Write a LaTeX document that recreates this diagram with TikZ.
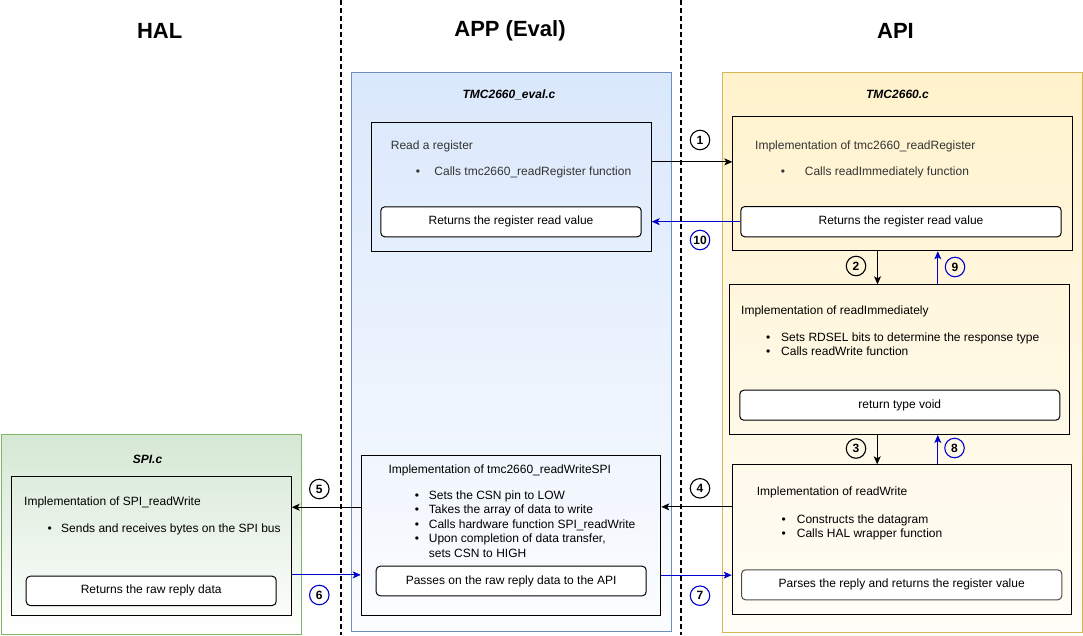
\documentclass[tikz,border=0pt]{standalone}
\usepackage{fontspec}
\setmainfont{Liberation Sans}
\usetikzlibrary{arrows.meta}
\definecolor{halline}{HTML}{82B366}
\definecolor{halfill}{HTML}{D5E8D4}
\definecolor{appline}{HTML}{6C8EBF}
\definecolor{appfill}{HTML}{DAE8FC}
\definecolor{apiline}{HTML}{D6B656}
\definecolor{apifill}{HTML}{FFF2CC}
\definecolor{retblue}{HTML}{0000CC}
\newcommand{\bul}[1][15pt]{\makebox[#1][l]{\textbullet}}
\tikzset{
every node/.style={inner sep=0pt, font=\fontsize{12}{14.5}\selectfont},
head/.style={font=\bfseries\fontsize{22}{22}\selectfont},
fname/.style={font=\bfseries\itshape\fontsize{12}{12}\selectfont},
layer/.style={rectangle, anchor=north west, line width=0.8pt},
block/.style={rectangle, anchor=north west, draw, line width=1pt},
result/.style={rectangle, anchor=north west, draw, rounded corners=4pt, fill=white, line width=1pt},
txt/.style={anchor=west, align=left},
num/.style={circle, draw, line width=1.1pt, minimum size=19.5pt, font=\bfseries\fontsize{12}{12}\selectfont},
bnum/.style={num, draw=retblue},
call/.style={draw, line width=0.9pt, -{Stealth[length=8pt,width=7pt,inset=2pt]}},
ret/.style={call, draw=retblue}
}

\begin{document}
\begin{tikzpicture}[x=1pt, y=-1pt]
\useasboundingbox (0,0) rectangle (1083,635);

% the three layers
\node[layer, draw=halline, top color=halfill, bottom color=white, minimum width=300pt, minimum height=200pt] (hall) at (0.5,434.3) {};
\node[layer, draw=appline, top color=appfill, bottom color=appfill!10!white, minimum width=320pt, minimum height=559.6pt] (appl) at (350.7,71.7) {};
\node[layer, draw=apiline, top color=apifill, bottom color=apifill!15!white, minimum width=360.3pt, minimum height=560pt] (apil) at (721.7,71.7) {};

\draw[line width=2pt, dash pattern=on 5pt off 3pt] (340.5,0) -- (340.5,635);
\draw[line width=2pt, dash pattern=on 5pt off 3pt] (680.5,0) -- (680.5,635);

\node[head] (halh) at (159.7,31.3) {HAL};
\node[head] (apph) at (510,31.3) {APP (Eval)};
\node[head] (apih) at (895.5,31.3) {API};

\node[fname] (evalc) at (509,94.7) {TMC2660\_eval.c};
\node[fname] (apic) at (897.5,94) {TMC2660.c};
\node[fname] (spic) at (147.5,459) {SPI.c};

% blocks
\node[block, minimum width=280pt, minimum height=129.3pt] (rd) at (370.7,121.7) {};
\node[result, minimum width=260.4pt, minimum height=30pt] (rdret) at (380.3,206.3) {Returns the register read value};
\node[block, minimum width=339.4pt, minimum height=134.6pt] (impl) at (732.3,115.7) {};
\node[result, minimum width=320.4pt, minimum height=30.3pt] (implret) at (740.3,206) {Returns the register read value};
\node[block, minimum width=340pt, minimum height=149.7pt] (rimm) at (729.3,284.3) {};
\node[result, minimum width=320pt, minimum height=30pt] (void) at (739.3,389.7) {return type void};
\node[block, minimum width=339pt, minimum height=149.7pt] (rw) at (731.7,464.3) {};
\node[result, draw=black!70, minimum width=320.3pt, minimum height=30pt] (parse) at (741,569.3) {Parses the reply and returns the register value};
\node[block, minimum width=299.6pt, minimum height=159.7pt] (spi) at (360.7,455.3) {};
\node[result, minimum width=270pt, minimum height=29.6pt] (pass) at (375.7,565.7) {Passes on the raw reply data to the API};
\node[block, minimum width=280pt, minimum height=139.3pt] (hal) at (10.7,475.7) {};
\node[result, minimum width=250pt, minimum height=29.3pt] (raw) at (25.7,575.7) {Returns the raw reply data};

% texts
\node[txt, text=black!80] (rdt) at (390.7,146) {Read a register};
\node[txt, text=black!80] (rdl) at (415.7,172) {\bul[18.6pt]Calls tmc2660\_readRegister function};
\node[txt, text=black!80] (implt) at (755,146) {Implementation of tmc2660\_readRegister};
\node[txt, text=black!80] (impll) at (780.7,172) {\bul[24pt]Calls readImmediately function};
\node[txt] (rimmt) at (741,311.7) {Implementation of readImmediately};
\node[txt, anchor=north west] (rimml) at (766,332.5) {\bul Sets RDSEL bits to determine the response type\\\bul Calls readWrite function};
\node[txt] (rwt) at (756.7,492.3) {Implementation of readWrite};
\node[txt, anchor=north west] (rwl) at (781.3,514.5) {\bul[15.4pt]Constructs the datagram\\\bul[15.4pt]Calls HAL wrapper function};
\node[txt] (spit) at (388.3,470) {Implementation of tmc2660\_readWriteSPI};
\node[txt, anchor=north west] (spil) at (414.7,490.5) {\bul[14pt]Sets the CSN pin to LOW\\\bul[14pt]Takes the array of data to write\\\bul[14pt]Calls hardware function SPI\_readWrite\\\bul[14pt]Upon completion of data transfer,\\\hspace*{14pt}sets CSN to HIGH};
\node[txt] (halt) at (24,502.7) {Implementation of SPI\_readWrite};
\node[txt] (halls) at (47.3,529.3) {\bul[13.7pt]Sends and receives bytes on the SPI bus};

% calls and returns
\coordinate (c1) at ([yshift=25pt]rd.east);
\draw[call] (c1) -- (c1 -| impl.west);
\draw[ret] (implret.west) -- (implret.west -| rd.east);
\coordinate (c2) at ([xshift=-25pt]impl.south);
\draw[call] (c2) -- (c2 |- rimm.north);
\coordinate (c9) at ([xshift=35.3pt]impl.south);
\draw[ret] (c9 |- rimm.north) -- (c9);
\coordinate (c3) at ([xshift=-22.6pt]rimm.south);
\draw[call] (c3) -- (c3 |- rw.north);
\coordinate (c8) at ([xshift=38pt]rimm.south);
\draw[ret] (c8 |- rw.north) -- (c8);
\coordinate (c4) at ([yshift=32.8pt]rw.west);
\draw[call] (c4) -- (c4 -| spi.east);
\coordinate (c5) at ([yshift=28.4pt]spi.west);
\draw[call] (c5) -- (c5 -| hal.east);
\coordinate (c6) at ([yshift=-29pt]hal.east);
\draw[ret] (c6) -- (c6 -| spi.west);
\coordinate (c7) at ([yshift=-39.5pt]spi.east);
\draw[ret] (c7) -- (c7 -| rw.west);

% step numbers
\node[num] (n1) at (700,140) {1};
\node[bnum] (n10) at (700,240) {10};
\node[num] (n2) at (856,266) {2};
\node[bnum] (n9) at (955,267) {9};
\node[num] (n3) at (856,448.5) {3};
\node[bnum] (n8) at (954.5,448) {8};
\node[num] (n4) at (700,488.3) {4};
\node[bnum] (n7) at (700,595.7) {7};
\node[num] (n5) at (319.3,489) {5};
\node[bnum] (n6) at (319.3,595) {6};
\end{tikzpicture}
\end{document}
